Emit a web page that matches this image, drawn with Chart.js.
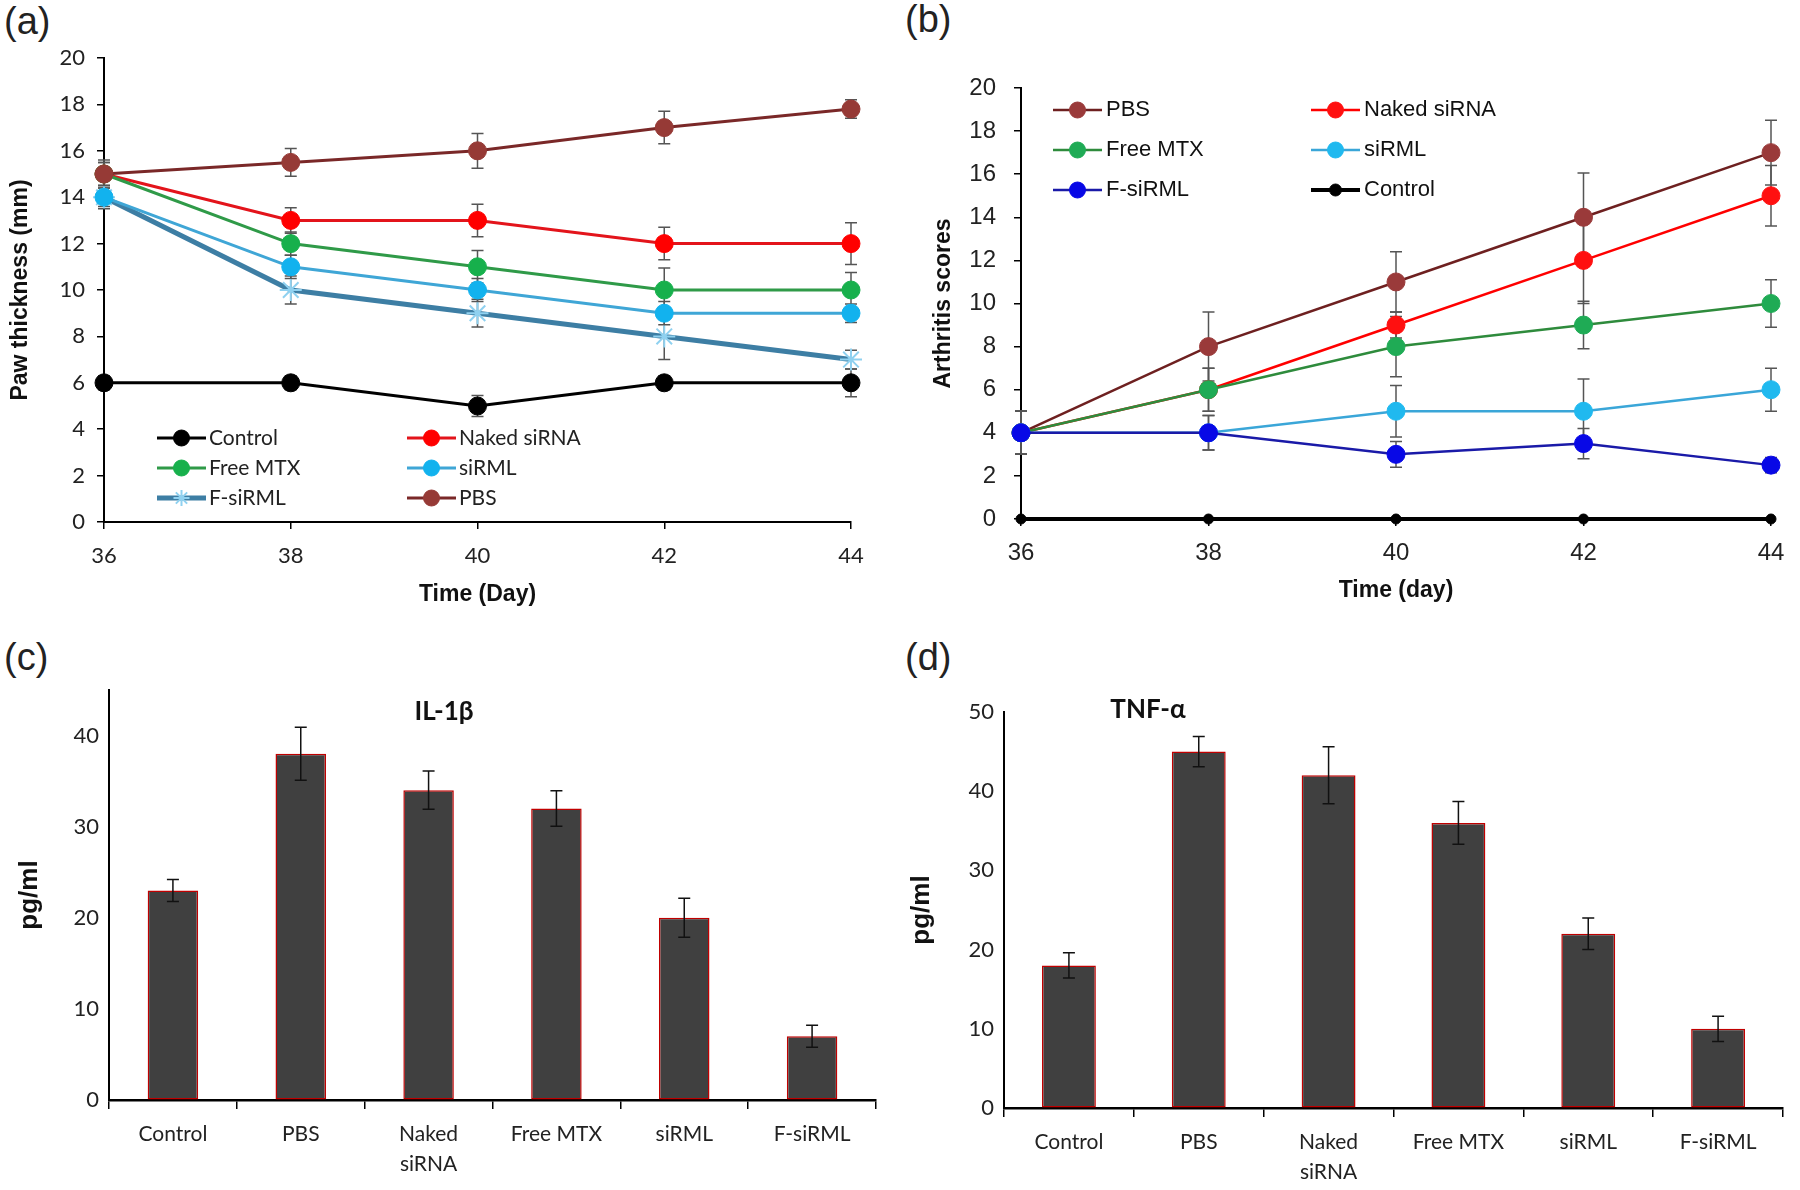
<!DOCTYPE html>
<html>
<head>
<meta charset="utf-8">
<script src="https://cdn.jsdelivr.net/npm/chart.js@4.4.0/dist/chart.umd.min.js"></script>
<style>
body { margin: 0; background: #fff; width: 1800px; height: 1190px; position: relative; overflow: hidden; }
.box { position: absolute; }
.tag { position: absolute; font: 38px/38px "Liberation Sans", Arial, sans-serif; color: #222; }
</style>
</head>
<body>
<div class="tag" style="left:4px;top:2px">(a)</div>
<div class="tag" style="left:905px;top:0px">(b)</div>
<div class="tag" style="left:4px;top:638px">(c)</div>
<div class="tag" style="left:905px;top:638px">(d)</div>

<div class="box" style="left:0;top:0"><canvas id="graph-a" width="900" height="625"></canvas></div>
<div class="box" style="left:900px;top:0"><canvas id="graph-b" width="900" height="625"></canvas></div>
<div class="box" style="left:0;top:640px"><canvas id="graph-c" width="900" height="550"></canvas></div>
<div class="box" style="left:900px;top:640px"><canvas id="graph-d" width="900" height="550"></canvas></div>

<script>
var days = [36, 38, 40, 42, 44];

/* (a) paw thickness, mm */
var pawControl = [6, 6, 5, 6, 6];
var pawControlErr = [0.3, 0.3, 0.45, 0.3, 0.6];
var pawNaked = [15, 13, 13, 12, 12];
var pawNakedErr = [0.5, 0.55, 0.7, 0.7, 0.9];
var pawMTX = [15, 12, 11, 10, 10];
var pawMTXErr = [0.5, 0.5, 0.7, 0.95, 0.75];
var pawSiRML = [14, 11, 10, 9, 9];
var pawSiRMLErr = [0.5, 0.5, 0.5, 0.5, 0.4];
var pawFSiRML = [14, 10, 9, 8, 7];
var pawFSiRMLErr = [0.4, 0.6, 0.6, 1.0, 0.4];
var pawPBS = [15, 15.5, 16, 17, 17.8];
var pawPBSErr = [0.6, 0.6, 0.75, 0.7, 0.4];

/* (b) arthritis scores */
var scorePBS = [4, 8, 11, 14, 17];
var scorePBSErr = [1, 1.6, 1.4, 2.05, 1.5];
var scoreNaked = [4, 6, 9, 12, 15];
var scoreNakedErr = [1, 1, 0.6, 2, 1.4];
var scoreMTX = [4, 6, 8, 9, 10];
var scoreMTXErr = [1, 1, 1.4, 1.1, 1.1];
var scoreSiRML = [4, 4, 5, 5, 6];
var scoreSiRMLErr = [1, 0.8, 1.2, 1.5, 1];
var scoreFSiRML = [4, 4, 3, 3.5, 2.5];
var scoreFSiRMLErr = [1, 0.8, 0.6, 0.7, 0.35];
var scoreControl = [0, 0, 0, 0, 0];

/* (c) and (d) cytokines, pg/ml */
var groups = ['Control', 'PBS', ['Naked', 'siRNA'], 'Free MTX', 'siRML', 'F-siRML'];
var il1b = [23, 38, 34, 32, 20, 7];
var il1bErr = [1.2, 2.9, 2.1, 1.95, 2.15, 1.2];
var tnfa = [18, 45, 42, 36, 22, 10];
var tnfaErr = [1.6, 1.9, 3.6, 2.7, 2.0, 1.6];

var calibri = 'Lato, "Open Sans", sans-serif';
var arial = '"Liberation Sans", Arial, sans-serif';

function pts(ys) {
	return days.map(function(d, i) { return { x: d, y: ys[i] }; });
}

/* error bars, drawn from the dataset's errors array through the y scale */
function drawErrors(chart, opts) {
	var ctx = chart.ctx, ys = chart.scales.y;
	chart.data.datasets.forEach(function(ds, i) {
		if (!ds.errors) return;
		var meta = chart.getDatasetMeta(i);
		meta.data.forEach(function(el, j) {
			var v = ds.data[j];
			v = (typeof v === 'object') ? v.y : v;
			var e = ds.errors[j];
			var top = ys.getPixelForValue(v + e), bot = ys.getPixelForValue(v - e);
			ctx.save();
			ctx.strokeStyle = opts.color;
			ctx.lineWidth = opts.width;
			ctx.beginPath();
			ctx.moveTo(el.x, top); ctx.lineTo(el.x, bot);
			ctx.moveTo(el.x - opts.cap, top); ctx.lineTo(el.x + opts.cap, top);
			ctx.moveTo(el.x - opts.cap, bot); ctx.lineTo(el.x + opts.cap, bot);
			ctx.stroke();
			ctx.restore();
		});
	});
}

var errorBars = {
	id: 'errorBars',
	beforeDatasetsDraw: function(chart, args, opts) { if (!opts.front) drawErrors(chart, opts); },
	afterDatasetsDraw: function(chart, args, opts) { if (opts.front) drawErrors(chart, opts); }
};

/* legend sitting inside the plot, line + marker + label */
var innerLegend = {
	id: 'innerLegend',
	afterDraw: function(chart, args, opts) {
		if (!opts.spots) return;
		var ctx = chart.ctx, a = chart.chartArea;
		chart.data.datasets.forEach(function(ds, i) {
			var x = a.left + opts.spots[i][0], y = a.top + opts.spots[i][1];
			ctx.save();
			ctx.strokeStyle = ds.borderColor;
			ctx.lineWidth = ds.borderWidth;
			ctx.beginPath(); ctx.moveTo(x, y); ctx.lineTo(x + opts.lineLen, y); ctx.stroke();
			ctx.fillStyle = ds.pointBackgroundColor;
			ctx.strokeStyle = ds.pointBorderColor;
			ctx.lineWidth = ds.pointBorderWidth;
			Chart.helpers.drawPoint(ctx, {
				pointStyle: ds.pointStyle || 'circle',
				radius: ds.legendRadius || opts.radius,
				rotation: 0,
				borderWidth: ds.pointBorderWidth
			}, x + opts.lineLen / 2, y);
			ctx.fillStyle = opts.color;
			ctx.font = opts.font;
			ctx.textAlign = 'left';
			ctx.textBaseline = 'middle';
			ctx.fillText(ds.label, x + opts.lineLen + opts.gap, y);
			ctx.restore();
		});
	}
};

var panelTitle = {
	id: 'panelTitle',
	afterDraw: function(chart, args, opts) {
		if (!opts.text) return;
		var ctx = chart.ctx, a = chart.chartArea;
		ctx.save();
		ctx.fillStyle = '#111';
		ctx.font = opts.font;
		ctx.textAlign = 'center';
		ctx.textBaseline = 'middle';
		ctx.fillText(opts.text, a.left + opts.dx, a.top + opts.dy);
		ctx.restore();
	}
};

Chart.register(errorBars, innerLegend, panelTitle);
Chart.defaults.devicePixelRatio = 1;
Chart.defaults.animation = false;

function lineSet(label, ys, errs, line, fill, order, extra) {
	var ds = {
		label: label,
		data: pts(ys),
		errors: errs,
		borderColor: line,
		borderWidth: 3,
		pointBackgroundColor: fill,
		pointBorderColor: fill,
		pointBorderWidth: 1,
		pointRadius: 9,
		pointStyle: 'circle',
		clip: false,
		order: order
	};
	for (var k in extra) ds[k] = extra[k];
	return ds;
}

function axisX(title, titleFont, tickFont, tickPad, titlePad, height) {
	return {
		type: 'linear', min: 36, max: 44,
		ticks: { stepSize: 2, color: '#222', font: tickFont, padding: tickPad },
		grid: { display: true, drawOnChartArea: false, color: '#000', tickLength: 7, lineWidth: 1.5 },
		border: { color: '#000', width: 2 },
		title: { display: true, text: title, color: '#111', font: titleFont, padding: { top: 0, bottom: titlePad } },
		afterFit: function(s) { s.height = height; }
	};
}

function axisY(title, titleFont, tickFont, tickPad, titlePad, width) {
	return {
		min: 0, max: 20,
		ticks: { stepSize: 2, color: '#222', font: tickFont, padding: tickPad },
		grid: { display: true, drawOnChartArea: false, color: '#000', tickLength: 7, lineWidth: 1.5 },
		border: { color: '#000', width: 2 },
		title: { display: true, text: title, color: '#111', font: titleFont, padding: { top: titlePad, bottom: 0 } },
		afterFit: function(s) { s.width = width; }
	};
}

/* Graph (a) */
new Chart(document.getElementById('graph-a'), {
	type: 'line',
	data: {
		datasets: [
			lineSet('Control', pawControl, pawControlErr, '#000000', '#000000', 5),
			lineSet('Naked siRNA', pawNaked, pawNakedErr, '#e3141b', '#ff0000', 4),
			lineSet('Free MTX', pawMTX, pawMTXErr, '#2f9a48', '#17b04c', 3),
			lineSet('siRML', pawSiRML, pawSiRMLErr, '#3fa6d6', '#12b2ee', 1),
			lineSet('F-siRML', pawFSiRML, pawFSiRMLErr, '#3d7ea4', '#8fd1f0', 2,
				{ borderWidth: 5, pointStyle: 'star', pointRadius: 11, pointBorderWidth: 2, pointBorderColor: '#8fd1f0' }),
			lineSet('PBS', pawPBS, pawPBSErr, '#7a2828', '#963a36', 0)
		]
	},
	options: {
		responsive: false,
		layout: { padding: { left: 0, top: 58, right: 49, bottom: 0 } },
		scales: {
			x: axisX('Time (Day)', { family: arial, size: 23, weight: 'bold' }, { family: calibri, size: 22 }, 14, 17, 103),
			y: axisY('Paw thickness (mm)', { family: arial, size: 23, weight: 'bold' }, { family: calibri, size: 22 }, 12, 7, 104)
		},
		plugins: {
			legend: { display: false },
			tooltip: { enabled: false },
			errorBars: { color: '#555', width: 1.5, cap: 6, front: false },
			innerLegend: {
				spots: [[53, 380], [303, 380], [53, 410], [303, 410], [53, 440], [303, 440]],
				lineLen: 49, gap: 3, radius: 8, color: '#222', font: '21px ' + calibri
			}
		}
	}
});

/* Graph (b) */
new Chart(document.getElementById('graph-b'), {
	type: 'line',
	data: {
		datasets: [
			lineSet('PBS', scorePBS, scorePBSErr, '#6e2020', '#9a3a3a', 5, { borderWidth: 2.5 }),
			lineSet('Naked siRNA', scoreNaked, scoreNakedErr, '#ff0000', '#ff1010', 4, { borderWidth: 2.5 }),
			lineSet('Free MTX', scoreMTX, scoreMTXErr, '#2e8b3c', '#1fab55', 3, { borderWidth: 2.5 }),
			lineSet('siRML', scoreSiRML, scoreSiRMLErr, '#3aa6d8', '#20b9ef', 2, { borderWidth: 2.5 }),
			lineSet('F-siRML', scoreFSiRML, scoreFSiRMLErr, '#1a1aa8', '#0808e6', 1, { borderWidth: 2.5 }),
			lineSet('Control', scoreControl, null, '#000000', '#000000', 0, { borderWidth: 4, pointRadius: 5, legendRadius: 6 })
		]
	},
	options: {
		responsive: false,
		layout: { padding: { left: 0, top: 88, right: 29, bottom: 0 } },
		scales: {
			x: axisX('Time (day)', { family: arial, size: 23, weight: 'bold' }, { family: arial, size: 24 }, 13, 21, 106),
			y: axisY('Arthritis scores', { family: arial, size: 23, weight: 'bold' }, { family: arial, size: 24 }, 18, 30, 121)
		},
		plugins: {
			legend: { display: false },
			tooltip: { enabled: false },
			errorBars: { color: '#555', width: 1.5, cap: 6, front: false },
			innerLegend: {
				spots: [[32, 22], [290, 22], [32, 62], [290, 62], [32, 102], [290, 102]],
				lineLen: 49, gap: 4, radius: 8, color: '#111', font: '22px ' + arial
			}
		}
	}
});

/* Graphs (c) and (d) */
function barChart(id, values, errs, title, yMax, pad, yWidth, xHeight, titleSpot, barPct) {
	return new Chart(document.getElementById(id), {
		type: 'bar',
		data: {
			labels: groups,
			datasets: [{
				data: values,
				errors: errs,
				backgroundColor: '#404040',
				borderColor: '#c00000',
				borderWidth: 1.5,
				borderSkipped: false,
				barPercentage: 1,
				categoryPercentage: barPct
			}]
		},
		options: {
			responsive: false,
			layout: { padding: pad },
			scales: {
				x: {
					ticks: { color: '#222', font: { family: calibri, size: 21, lineHeight: 1.45 }, padding: 10 },
					grid: { display: true, drawOnChartArea: false, color: '#000', tickLength: 9, lineWidth: 1.5 },
					border: { color: '#000', width: 2.5 },
					afterFit: function(s) { s.height = xHeight; }
				},
				y: {
					min: 0, max: yMax,
					ticks: { stepSize: 10, color: '#222', font: { family: calibri, size: 22 }, padding: 10 },
					grid: { display: true, drawOnChartArea: false, drawTicks: false, color: '#000' },
					border: { color: '#000', width: 2 },
					title: { display: true, text: 'pg/ml', color: '#111', font: { family: arial, size: 26, weight: 'bold' }, padding: { top: titleSpot[2], bottom: 0 } },
					afterBuildTicks: function(s) { s.ticks = s.ticks.filter(function(t) { return t.value % 10 === 0; }); },
					afterFit: function(s) { s.width = yWidth; }
				}
			},
			plugins: {
				legend: { display: false },
				tooltip: { enabled: false },
				errorBars: { color: '#111', width: 1.5, cap: 6, front: true },
				panelTitle: { text: title, dx: titleSpot[0], dy: titleSpot[1], font: 'bold 26px ' + calibri }
			}
		}
	});
}

barChart('graph-c', il1b, il1bErr, 'IL-1\u03b2', 45, { left: 0, top: 50, right: 24, bottom: 0 }, 109, 90, [335, 22, 14], 0.395);
barChart('graph-d', tnfa, tnfaErr, 'TNF-\u03b1', 50, { left: 0, top: 72, right: 17, bottom: 0 }, 104, 82, [144, -2, 6], 0.415);
</script>
</body>
</html>
